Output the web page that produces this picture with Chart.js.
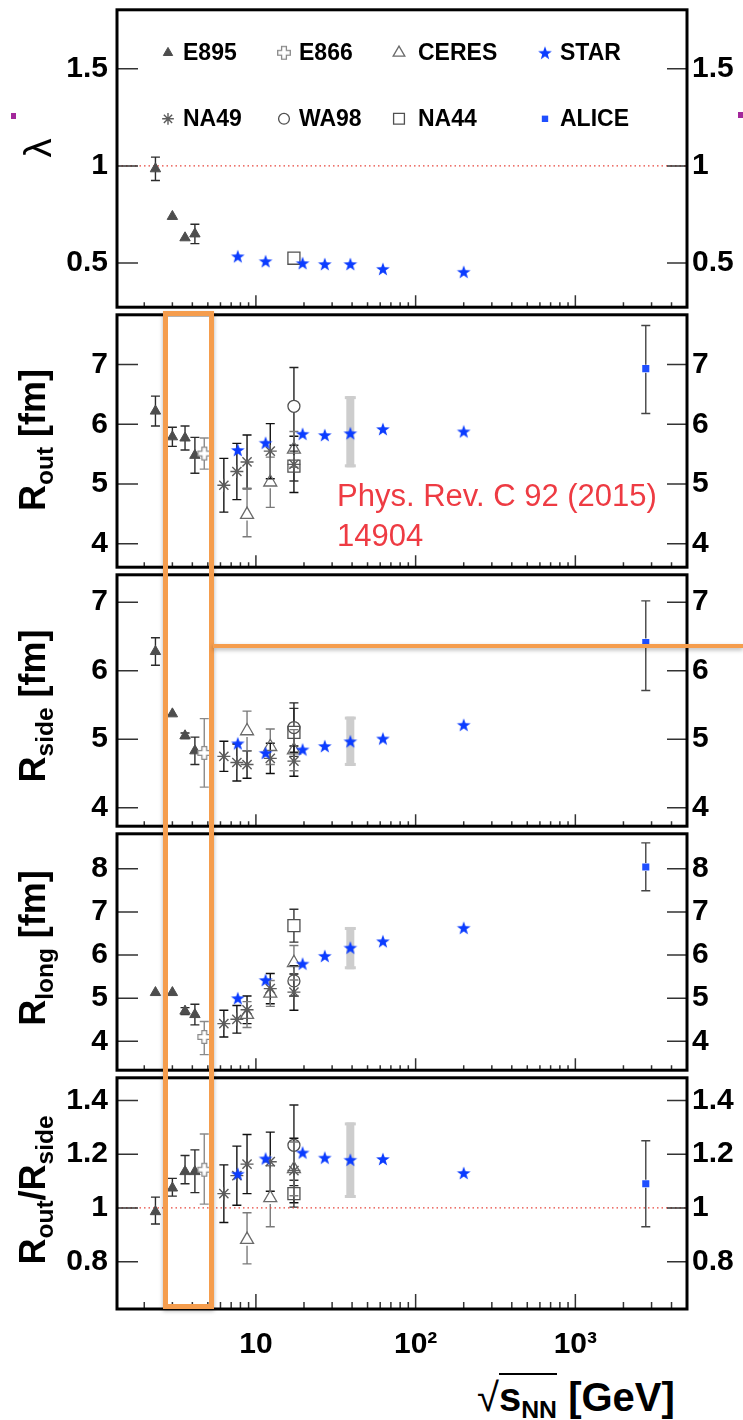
<!DOCTYPE html>
<html>
<head>
<meta charset="utf-8">
<title>HBT parameters vs collision energy</title>
<script src="https://cdn.jsdelivr.net/npm/chart.js@4.4.1/dist/chart.umd.min.js"></script>
<style>
  body { margin: 0; background: #fff; }
  #page { position: relative; width: 743px; height: 1420px; overflow: hidden; background: #fff;
          font-family: 'Liberation Sans', Arial, Helvetica, sans-serif; }
  #page canvas { position: absolute; left: 0; }
  .ytitle { position: absolute; transform: translate(-50%, -50%) rotate(-90deg); white-space: nowrap;
            font-weight: bold; font-size: 36px; line-height: 1; color: #000; }
  .ytitle sub { font-size: 0.68em; vertical-align: baseline; position: relative; top: 0.32em; }
  .ytitle.lambda { font-weight: normal; font-size: 38px; }
  #xtitle { position: absolute; left: 477px; top: 1377px; font-weight: bold; font-size: 40px; line-height: 1; white-space: nowrap; }
  #xtitle .rad { font-weight: normal; }
  #xtitle .over { border-top: 2px solid #000; }
  #xtitle sub { font-size: 0.62em; vertical-align: baseline; position: relative; top: 0.3em; }
  #box { position: absolute; left: 163px; top: 311px; width: 51px; height: 998px; box-sizing: border-box;
         border: 5px solid #f59d4d; box-shadow: 0 2px 4px rgba(0,0,0,0.3); }
  #hline { position: absolute; left: 213px; top: 644px; width: 530px; height: 4px; background: #f59d4d;
           box-shadow: 0 2px 4px rgba(0,0,0,0.3); }
  #note { position: absolute; left: 337px; top: 476px; color: #ee3b43; font-size: 31px; line-height: 40px; white-space: nowrap; }
  .dot { position: absolute; width: 5px; height: 6px; background: #a3279b; }
</style>
</head>
<body>
<div id="page">
  <canvas id="cLambda" width="743" height="317" style="top:0px"></canvas>
  <canvas id="cOut" width="743" height="272" style="top:305px"></canvas>
  <canvas id="cSide" width="743" height="271" style="top:565px"></canvas>
  <canvas id="cLong" width="743" height="256" style="top:824px"></canvas>
  <canvas id="cRatio" width="743" height="302" style="top:1068px"></canvas>

  <div class="ytitle lambda" style="left:38px; top:148px">λ</div>
  <div class="ytitle" style="left:33px; top:440px">R<sub>out</sub> [fm]</div>
  <div class="ytitle" style="left:33px; top:706px">R<sub>side</sub> [fm]</div>
  <div class="ytitle" style="left:33px; top:948px">R<sub>long</sub> [fm]</div>
  <div class="ytitle" style="left:33px; top:1190px">R<sub>out</sub>/R<sub>side</sub></div>
  <div id="xtitle"><span class="rad">√</span><span class="over">s<sub>NN</sub></span> [GeV]</div>

  <div id="box"></div>
  <div id="hline"></div>
  <div id="note">Phys. Rev. C 92 (2015)<br>14904</div>
  <div class="dot" style="left:11px; top:113px"></div>
  <div class="dot" style="left:738px; top:112px"></div>
</div>
<script>
// x axis (sqrt(s_NN) in GeV)
const xMin = 1.35;
const xMax = 5000;
const xTickValues = [10, 100, 1000];
const xTickLabels = ['10', '10²', '10³'];

// collision energies per experiment
const energyE895 = [2.35, 3.0, 3.6, 4.15];
const energyE866 = [4.75];
const energyNA49 = [6.3, 7.6, 8.8, 12.3, 17.3];
const energyCERES = [8.8, 12.3, 17.3];
const energyWA98 = [17.3];
const energyNA44 = [17.3];
const energySTAR = [7.7, 11.5, 19.6, 27, 39, 62.4, 200];
const energyALICE = [2760];
const starBandEnergy = 39;
const unityValue = 1;

// lambda
const lambdaTicks = [0.5, 1, 1.5];
const lambdaE895 = [0.985, 0.74, 0.63, 0.65];
const lambdaE895Err = [0.06, 0, 0, 0.05];
const lambdaNA44 = [0.525];
const lambdaSTAR = [0.535, 0.51, 0.5, 0.495, 0.495, 0.47, 0.455];

// R_out
const routTicks = [4, 5, 6, 7];
const routE895 = [6.22, 5.79, 5.77, 5.48];
const routE895Err = [0.25, 0.16, 0.2, 0.3];
const routE866 = [5.51];
const routE866Err = [0.26];
const routNA49 = [4.98, 5.21, 5.37, 5.55, 5.33];
const routNA49Err = [0.45, 0.47, 0.45, 0.46, 0.47];
const routCERES = [4.49, 5.03, 5.58];
const routCERESLo = [0.37, 0.42, 0.3];
const routCERESHi = [0.44, 0.42, 0.3];
const routWA98 = [6.3];
const routWA98Err = [0.65];
const routNA44 = [5.3];
const routNA44Err = [0.25];
const routSTAR = [5.57, 5.69, 5.84, 5.82, 5.85, 5.92, 5.88];
const routSTARBand = [5.28, 6.47];
const routALICE = [6.93];
const routALICELo = [0.75];
const routALICEHi = [0.72];

// R_side
const rsideTicks = [4, 5, 6, 7];
const rsideE895 = [6.28, 5.37, 5.05, 4.83];
const rsideE895Err = [0.2, 0, 0.04, 0.2];
const rsideE866 = [4.8];
const rsideE866Err = [0.5];
const rsideNA49 = [4.75, 4.66, 4.63, 4.72, 4.68];
const rsideNA49Err = [0.22, 0.27, 0.2, 0.22, 0.22];
const rsideCERES = [5.12, 4.89, 4.84];
const rsideCERESErr = [0.29, 0.26, 0.3];
const rsideWA98 = [5.17];
const rsideWA98Err = [0.36];
const rsideNA44 = [5.1];
const rsideNA44Err = [0.35];
const rsideSTAR = [4.94, 4.8, 4.85, 4.9, 4.97, 5.01, 5.21];
const rsideSTARBand = [4.61, 5.33];
const rsideALICE = [6.41];
const rsideALICELo = [0.7];
const rsideALICEHi = [0.61];

// R_long
const rlongTicks = [4, 5, 6, 7, 8];
const rlongE895 = [5.13, 5.13, 4.7, 4.62];
const rlongE895Err = [0, 0, 0.08, 0.24];
const rlongE866 = [4.1];
const rlongE866Lo = [0.41];
const rlongE866Hi = [0.36];
const rlongNA49 = [4.41, 4.51, 4.73, 5.22, 5.14];
const rlongNA49Err = [0.31, 0.32, 0.32, 0.35, 0.42];
const rlongCERES = [4.62, 5.11, 5.82];
const rlongCERESErr = [0.3, 0.3, 0.4];
const rlongWA98 = [5.4];
const rlongWA98Err = [0.35];
const rlongNA44 = [6.68];
const rlongNA44Err = [0.38];
const rlongSTAR = [5.0, 5.42, 5.8, 5.98, 6.17, 6.32, 6.63];
const rlongSTARBand = [5.67, 6.65];
const rlongALICE = [8.04];
const rlongALICELo = [0.55];
const rlongALICEHi = [0.56];

// R_out / R_side
const ratioTicks = [0.8, 1, 1.2, 1.4];
const ratioE895 = [0.986, 1.074, 1.135, 1.135];
const ratioE895Lo = [0.046, 0.03, 0.045, 0.078];
const ratioE895Hi = [0.054, 0.036, 0.06, 0.081];
const ratioE866 = [1.142];
const ratioE866Lo = [0.128];
const ratioE866Hi = [0.133];
const ratioNA49 = [1.053, 1.12, 1.163, 1.172, 1.139];
const ratioNA49Err = [0.107, 0.11, 0.11, 0.11, 0.12];
const ratioCERES = [0.882, 1.037, 1.145];
const ratioCERESLo = [0.09, 0.107, 0.1];
const ratioCERESHi = [0.1, 0.12, 0.1];
const ratioWA98 = [1.233];
const ratioWA98Err = [0.15];
const ratioNA44 = [1.053];
const ratioNA44Err = [0.05];
const ratioSTAR = [1.127, 1.184, 1.206, 1.187, 1.179, 1.182, 1.13];
const ratioSTARBand = [1.037, 1.318];
const ratioALICE = [1.09];
const ratioALICEErr = [0.16];

// ---- marker images ----
function starMarker(color) {
  const c = document.createElement('canvas');
  c.width = 16; c.height = 16;
  const g = c.getContext('2d');
  g.fillStyle = color;
  g.beginPath();
  for (let i = 0; i < 10; i++) {
    const r = i % 2 ? 2.9 : 7.2;
    const a = -Math.PI / 2 + i * Math.PI / 5;
    g.lineTo(8 + r * Math.cos(a), 8.6 + r * Math.sin(a));
  }
  g.closePath();
  g.fill();
  return c;
}

function openCrossMarker(color) {
  const c = document.createElement('canvas');
  c.width = 16; c.height = 16;
  const g = c.getContext('2d');
  const m = 8, w = 2.4, l = 6.3;
  g.strokeStyle = color;
  g.lineWidth = 1.3;
  g.fillStyle = '#fff';
  g.beginPath();
  g.moveTo(m - w, m - l); g.lineTo(m + w, m - l); g.lineTo(m + w, m - w); g.lineTo(m + l, m - w);
  g.lineTo(m + l, m + w); g.lineTo(m + w, m + w); g.lineTo(m + w, m + l); g.lineTo(m - w, m + l);
  g.lineTo(m - w, m + w); g.lineTo(m - l, m + w); g.lineTo(m - l, m - w); g.lineTo(m - w, m - w);
  g.closePath();
  g.fill();
  g.stroke();
  return c;
}

const clear = 'rgba(0,0,0,0)';
const styles = {
  E895:  { pointStyle: 'triangle', radius: 6, fill: '#4d4d4d', line: '#4d4d4d', width: 1, err: '#2b2b2b', gap: 0 },
  E866:  { pointStyle: openCrossMarker('#8a8a8a'), radius: 7, fill: clear, line: '#8a8a8a', width: 0, err: '#8a8a8a', gap: 6 },
  CERES: { pointStyle: 'triangle', radius: 7.5, fill: clear, line: '#6a6a6a', width: 1.3, err: '#7a7a7a', gap: 6 },
  STAR:  { pointStyle: starMarker('#0b3cff'), radius: 7, fill: '#0b3cff', line: '#0b3cff', width: 0, err: '#0b3cff', gap: 0 },
  NA49:  { pointStyle: 'star', radius: 6.5, fill: clear, line: '#5c5c5c', width: 1.4, err: '#111', gap: 0 },
  WA98:  { pointStyle: 'circle', radius: 6, fill: clear, line: '#505050', width: 1.3, err: '#222', gap: 6 },
  NA44:  { pointStyle: 'rect', radius: 8.5, fill: clear, line: '#505050', width: 1.3, err: '#333', gap: 6 },
  ALICE: { pointStyle: 'rect', radius: 5, fill: '#1f4fff', line: '#1f4fff', width: 0, err: '#444', gap: 4 }
};
const legendOrder = ['E895', 'E866', 'CERES', 'STAR', 'NA49', 'WA98', 'NA44', 'ALICE'];

function series(exp, xs, ys, lo, hi) {
  const s = styles[exp];
  return {
    type: 'scatter',
    label: exp,
    data: ys.map((v, i) => ({ x: xs[i], y: v })),
    errLo: lo || null,
    errHi: hi || lo || null,
    errColor: s.err,
    errGap: s.gap,
    pointStyle: s.pointStyle,
    pointRadius: s.radius,
    pointHoverRadius: s.radius,
    pointBackgroundColor: s.fill,
    pointBorderColor: s.line,
    pointBorderWidth: s.width
  };
}

function unityLine() {
  return {
    type: 'line',
    label: 'unity',
    data: [{ x: xMin, y: unityValue }, { x: xMax, y: unityValue }],
    borderColor: '#e8453c',
    borderWidth: 1.3,
    borderDash: [1.5, 3],
    pointRadius: 0,
    fill: false
  };
}

// ---- plugins ----
const errorBarPlugin = {
  id: 'errorBars',
  beforeDatasetsDraw(chart, args, opts) {
    const { ctx, chartArea: a, scales: { x, y } } = chart;
    ctx.save();
    ctx.beginPath();
    ctx.rect(a.left, a.top, a.right - a.left, a.bottom - a.top);
    ctx.clip();
    if (opts.band) {
      const px = x.getPixelForValue(opts.band.x);
      const yt = y.getPixelForValue(opts.band.range[1]);
      const yb = y.getPixelForValue(opts.band.range[0]);
      ctx.fillStyle = '#cdcdcd';
      ctx.fillRect(px - 4, yt, 8, yb - yt);
      ctx.fillRect(px - 5.5, yt, 11, 3);
      ctx.fillRect(px - 5.5, yb - 3, 11, 3);
    }
    chart.data.datasets.forEach(ds => {
      if (!ds.errLo) return;
      ctx.strokeStyle = ds.errColor;
      ctx.lineWidth = 1.4;
      ds.data.forEach((p, i) => {
        const lo = ds.errLo[i], hi = ds.errHi[i];
        const px = x.getPixelForValue(p.x);
        const py = y.getPixelForValue(p.y);
        const g = ds.errGap || 0;
        ctx.beginPath();
        if (hi > 0) {
          const yt = y.getPixelForValue(p.y + hi);
          if (py - g > yt) { ctx.moveTo(px, py - g); ctx.lineTo(px, yt); }
          ctx.moveTo(px - 4.5, yt); ctx.lineTo(px + 4.5, yt);
        }
        if (lo > 0) {
          const yb = y.getPixelForValue(p.y - lo);
          if (py + g < yb) { ctx.moveTo(px, py + g); ctx.lineTo(px, yb); }
          ctx.moveTo(px - 4.5, yb); ctx.lineTo(px + 4.5, yb);
        }
        ctx.stroke();
      });
    });
    ctx.restore();
  }
};

const framePlugin = {
  id: 'frame',
  afterDraw(chart, args, opts) {
    const { ctx, chartArea: a, scales: { x, y } } = chart;
    ctx.save();
    ctx.strokeStyle = '#333';
    ctx.lineWidth = 1.5;
    ctx.beginPath();
    y.ticks.forEach(t => {
      const py = y.getPixelForValue(t.value);
      ctx.moveTo(a.left, py); ctx.lineTo(a.left + 21, py);
      ctx.moveTo(a.right - 20, py); ctx.lineTo(a.right, py);
    });
    for (let dec = 1; dec <= 1000; dec *= 10) {
      for (let m = 1; m <= 9; m++) {
        const v = m * dec;
        if (v <= xMin || v >= xMax) continue;
        const px = x.getPixelForValue(v);
        const len = m === 1 ? opts.major : opts.minor;
        ctx.moveTo(px, a.bottom); ctx.lineTo(px, a.bottom - len);
      }
    }
    ctx.stroke();
    ctx.strokeStyle = '#000';
    ctx.lineWidth = 3;
    ctx.strokeRect(a.left, a.top, a.right - a.left, a.bottom - a.top);
    ctx.restore();
  }
};

const legendPlugin = {
  id: 'expLegend',
  afterDraw(chart, args, opts) {
    if (!opts.show) return;
    const { ctx, chartArea: a } = chart;
    const colX = [51, 167, 282, 428];
    const textDx = [15, 15, 19, 15];
    const rowY = [43, 109];
    ctx.save();
    legendOrder.forEach((exp, i) => {
      const s = styles[exp];
      const col = i % 4, row = Math.floor(i / 4);
      const mx = a.left + colX[col], my = a.top + rowY[row];
      ctx.fillStyle = s.fill;
      ctx.strokeStyle = s.line;
      ctx.lineWidth = s.width;
      Chart.helpers.drawPoint(ctx, { pointStyle: s.pointStyle, radius: s.radius * 0.9, borderWidth: s.width, rotation: 0 }, mx, my);
      ctx.fillStyle = '#000';
      ctx.font = 'bold 23px "Liberation Sans", Arial, sans-serif';
      ctx.textBaseline = 'middle';
      ctx.textAlign = 'left';
      ctx.fillText(exp, mx + textDx[col], my + 1);
    });
    ctx.restore();
  }
};

// ---- chart builder ----
const tickFont = { family: '"Liberation Sans", Arial, Helvetica, sans-serif', size: 30, weight: 'bold' };
const fmt = v => String(Math.round(v * 10) / 10);

function makePanel(id, cfg) {
  const isBottom = !!cfg.bottom;
  const yAxis = (position, width, padding) => ({
    position: position,
    min: cfg.yMin,
    max: cfg.yMax,
    grid: { display: false, drawTicks: false },
    border: { display: false },
    afterBuildTicks: s => { s.ticks = cfg.yTicks.map(v => ({ value: v })); },
    afterFit: s => { s.width = width; s.paddingTop = 0; s.paddingBottom = 0; },
    ticks: { font: tickFont, color: '#000', padding: padding, callback: fmt }
  });
  return new Chart(document.getElementById(id), {
    type: 'scatter',
    data: { datasets: cfg.datasets },
    options: {
      responsive: false,
      animation: false,
      devicePixelRatio: 1,
      events: [],
      layout: { padding: { top: cfg.padTop, bottom: cfg.padBottom, left: 0, right: 0 } },
      scales: {
        x: {
          type: 'logarithmic',
          min: xMin,
          max: xMax,
          display: isBottom,
          grid: { display: false, drawTicks: false },
          border: { display: false },
          afterBuildTicks: s => { s.ticks = xTickValues.map(v => ({ value: v })); },
          afterFit: s => { s.height = isBottom ? 61 : 0; s.paddingLeft = 0; s.paddingRight = 0; },
          ticks: {
            display: isBottom,
            font: tickFont, color: '#000', padding: 18, maxRotation: 0, autoSkip: false,
            callback: v => xTickLabels[xTickValues.indexOf(v)]
          }
        },
        y: yAxis('left', 117, 9),
        yRight: yAxis('right', 56, 5)
      },
      plugins: {
        legend: { display: false },
        tooltip: { enabled: false },
        errorBars: { band: cfg.band || null },
        frame: { minor: isBottom ? 7 : 5, major: isBottom ? 15 : 12 },
        expLegend: { show: !!cfg.legend }
      }
    },
    plugins: [errorBarPlugin, framePlugin, legendPlugin]
  });
}

makePanel('cLambda', {
  yMin: 0.273, yMax: 1.803, yTicks: lambdaTicks, padTop: 8, padBottom: 6, legend: true,
  datasets: [
    series('STAR', energySTAR, lambdaSTAR),
    series('NA44', energyNA44, lambdaNA44),
    series('E895', energyE895, lambdaE895, lambdaE895Err),
    unityLine()
  ]
});

makePanel('cOut', {
  yMin: 3.61, yMax: 7.83, yTicks: routTicks, padTop: 6, padBottom: 6,
  band: { x: starBandEnergy, range: routSTARBand },
  datasets: [
    series('STAR', energySTAR, routSTAR),
    series('ALICE', energyALICE, routALICE, routALICELo, routALICEHi),
    series('NA49', energyNA49, routNA49, routNA49Err),
    series('NA44', energyNA44, routNA44, routNA44Err),
    series('WA98', energyWA98, routWA98, routWA98Err),
    series('CERES', energyCERES, routCERES, routCERESLo, routCERESHi),
    series('E866', energyE866, routE866, routE866Err),
    series('E895', energyE895, routE895, routE895Err)
  ]
});

makePanel('cSide', {
  yMin: 3.73, yMax: 7.40, yTicks: rsideTicks, padTop: 6, padBottom: 6,
  band: { x: starBandEnergy, range: rsideSTARBand },
  datasets: [
    series('STAR', energySTAR, rsideSTAR),
    series('ALICE', energyALICE, rsideALICE, rsideALICELo, rsideALICEHi),
    series('NA49', energyNA49, rsideNA49, rsideNA49Err),
    series('NA44', energyNA44, rsideNA44, rsideNA44Err),
    series('WA98', energyWA98, rsideWA98, rsideWA98Err),
    series('CERES', energyCERES, rsideCERES, rsideCERESErr),
    series('E866', energyE866, rsideE866, rsideE866Err),
    series('E895', energyE895, rsideE895, rsideE895Err)
  ]
});

makePanel('cLong', {
  yMin: 3.33, yMax: 8.81, yTicks: rlongTicks, padTop: 6, padBottom: 6,
  band: { x: starBandEnergy, range: rlongSTARBand },
  datasets: [
    series('STAR', energySTAR, rlongSTAR),
    series('ALICE', energyALICE, rlongALICE, rlongALICELo, rlongALICEHi),
    series('NA49', energyNA49, rlongNA49, rlongNA49Err),
    series('NA44', energyNA44, rlongNA44, rlongNA44Err),
    series('WA98', energyWA98, rlongWA98, rlongWA98Err),
    series('CERES', energyCERES, rlongCERES, rlongCERESErr),
    series('E866', energyE866, rlongE866, rlongE866Lo, rlongE866Hi),
    series('E895', energyE895, rlongE895, rlongE895Err)
  ]
});

makePanel('cRatio', {
  yMin: 0.624, yMax: 1.484, yTicks: ratioTicks, padTop: 6, padBottom: 0, bottom: true,
  band: { x: starBandEnergy, range: ratioSTARBand },
  datasets: [
    series('STAR', energySTAR, ratioSTAR),
    series('ALICE', energyALICE, ratioALICE, ratioALICEErr),
    series('NA49', energyNA49, ratioNA49, ratioNA49Err),
    series('NA44', energyNA44, ratioNA44, ratioNA44Err),
    series('WA98', energyWA98, ratioWA98, ratioWA98Err),
    series('CERES', energyCERES, ratioCERES, ratioCERESLo, ratioCERESHi),
    series('E866', energyE866, ratioE866, ratioE866Lo, ratioE866Hi),
    series('E895', energyE895, ratioE895, ratioE895Lo, ratioE895Hi),
    unityLine()
  ]
});
</script>
</body>
</html>
